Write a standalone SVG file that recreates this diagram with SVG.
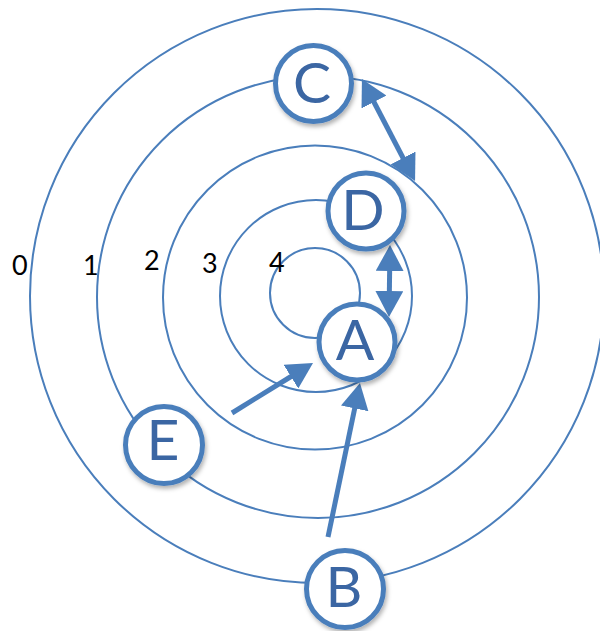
<svg xmlns="http://www.w3.org/2000/svg" width="600" height="631" viewBox="0 0 600 631">
  <style>
    .ring { fill: none; stroke: #4a7ebb; stroke-width: 2; }
    .node circle { fill: #ffffff; stroke: #4a7ebb; stroke-width: 5; filter: url(#shadow); }
    .node text { font-family: Lato, "Open Sans", sans-serif; font-size: 57px; fill: #3b66a3; text-anchor: middle; }
    .num { font-family: Lato, "Open Sans", sans-serif; font-size: 27px; fill: #000000; }
    .conn line { stroke: #4a7ebb; stroke-width: 5; }
  </style>
  <defs>
    <filter id="shadow" x="-30%" y="-30%" width="160%" height="160%">
      <feDropShadow dx="1.5" dy="3" stdDeviation="2" flood-color="#000000" flood-opacity="0.3"/>
    </filter>
    <marker id="head" markerUnits="userSpaceOnUse" markerWidth="26" markerHeight="28" refX="4" refY="14" orient="auto-start-reverse" viewBox="0 0 26 28">
      <path d="M0,0 L26,14 L0,28 z" fill="#4a7ebb"/>
    </marker>
  </defs>
  <rect width="600" height="631" fill="#ffffff"/>
  <g id="rings">
    <circle class="ring" cx="317" cy="296" r="287"/>
    <circle class="ring" cx="318" cy="297" r="221"/>
    <circle class="ring" cx="315" cy="297.5" r="152"/>
    <circle class="ring" cx="316" cy="296" r="96"/>
    <circle class="ring" cx="315" cy="293" r="45"/>
  </g>
  <g id="labels">
    <text class="num" x="12" y="275">0</text>
    <text class="num" x="83" y="275">1</text>
    <text class="num" x="144" y="270">2</text>
    <text class="num" x="202" y="273">3</text>
    <text class="num" x="269" y="272">4</text>
  </g>
  <g id="connectors" class="conn">
    <line x1="372.1" y1="98.5" x2="404.9" y2="161.5" marker-start="url(#head)" marker-end="url(#head)"/>
    <line x1="389.7" y1="267" x2="389.3" y2="295" marker-start="url(#head)" marker-end="url(#head)"/>
    <line x1="232" y1="413" x2="294.3" y2="374.5" marker-end="url(#head)"/>
    <line x1="328" y1="537" x2="355.5" y2="404.5" marker-end="url(#head)"/>
  </g>
  <g id="node-C" class="node">
    <circle cx="313.5" cy="83.5" r="38"/>
    <text x="312" y="103">C</text>
  </g>
  <g id="node-D" class="node">
    <circle cx="366" cy="211" r="38"/>
    <text x="363" y="230">D</text>
  </g>
  <g id="node-A" class="node">
    <circle cx="357" cy="342" r="38"/>
    <text x="355" y="360">A</text>
  </g>
  <g id="node-B" class="node">
    <circle cx="345" cy="589" r="38.5"/>
    <text x="344" y="607">B</text>
  </g>
  <g id="node-E" class="node">
    <circle cx="164" cy="445" r="38.5"/>
    <text x="163" y="460">E</text>
  </g>
</svg>
